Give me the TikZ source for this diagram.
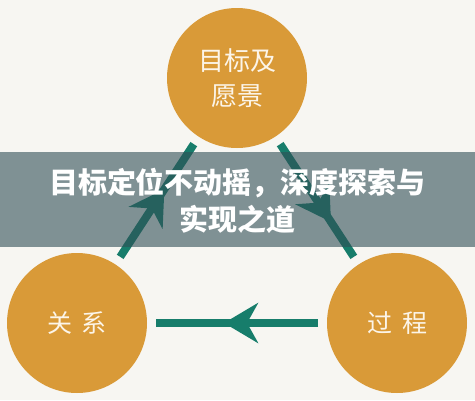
\documentclass[tikz,border=0pt]{standalone}
\usepackage{fontspec}
\newfontfamily\cjk{Noto Sans CJK SC}
\usetikzlibrary{arrows.meta,decorations.markings}
\definecolor{paper}{HTML}{F7F6F2}
\definecolor{ochre}{HTML}{D99A38}
\definecolor{cream}{HTML}{FCF5E9}
\definecolor{flowgreen}{HTML}{177D6B}
\definecolor{bannergray}{HTML}{304F56}

\begin{document}
\begin{tikzpicture}[x=1pt, y=-1pt,
  circ/.style={circle, fill=ochre, minimum size=140pt, inner sep=0pt,
               outer sep=9pt, text=cream, align=center,
               font=\cjk\fontsize{25}{35}\selectfont},
  flow/.style={line width=8pt, flowgreen, postaction={decorate},
               decoration={markings, mark=at position #1 with
                 {\arrow{Stealth[length=34pt, width=40pt, inset=11pt]}}}},
]
  \useasboundingbox (0,0) rectangle (475,400);
  \fill[paper] (0,0) rectangle (475,400);
  %% Three circles
  \node[circ, font=\cjk\fontsize{26}{35}\selectfont] (goal) at (237,78) {目标及\\愿景};
  \node[circ] (relation) at (77,323) {关\hspace{10pt}系};
  \node[circ] (process) at (397,323) {过\hspace{10pt}程};

  %% Connectors
  \draw[flow=0.6]  (relation) -- (goal);
  \draw[flow=0.69] (goal) -- (process);
  \draw[flow=0.58] (process) -- (relation);

  %% Title banner across the middle
  \fill[bannergray, fill opacity=0.6] (0,152) rectangle (475,247);
  \node[text=white, align=center, font=\cjk\bfseries\fontsize{29}{37}\selectfont]
       (title) at (237.5,201) {目标定位不动摇，深度探索与\\实现之道};
\end{tikzpicture}
\end{document}
